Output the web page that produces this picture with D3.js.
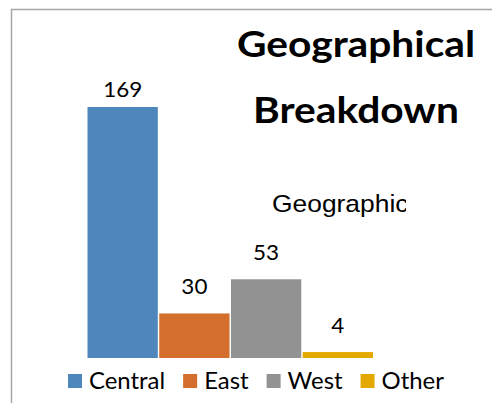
<!DOCTYPE html>
<html>
<head>
<meta charset="utf-8">
<script src="https://cdn.jsdelivr.net/npm/d3@7"></script>
<style>
  html, body { margin: 0; padding: 0; background: #fff; }
  svg { display: block; }
</style>
</head>
<body>
<div id="chart"></div>
<script>
const categories = ['Central', 'East', 'West', 'Other'];
const values = [169, 30, 53, 4];
const colors = ['#4F87BC', '#D36E2C', '#929292', '#E4A900'];
const titleLines = ['Geographical', 'Breakdown'];
const subTitle = 'Geographic';

const width = 492;
const height = 403;

const svg = d3.select('#chart').append('svg')
  .attr('width', width)
  .attr('height', height);

// outer frame (only top and left edges fall inside the picture)
svg.append('rect')
  .attr('x', 11.5).attr('y', 9.5)
  .attr('width', 600).attr('height', 600)
  .attr('fill', 'none')
  .attr('stroke', '#a6a6a6')
  .attr('stroke-width', 1.5);

const x = d3.scaleBand()
  .domain(categories)
  .range([87.5, 373])
  .paddingInner(0.02);

const y = d3.scaleLinear()
  .domain([0, 169])
  .range([358, 107]);

// the reference text is a bit wide, so stretch it horizontally
function place(sel, px, py, sx) {
  return sel.attr('transform', `translate(${px},${py}) scale(${sx},1)`);
}

// second title, cut off on the right
svg.append('clipPath').attr('id', 'subclip')
  .append('rect').attr('x', 0).attr('y', 0).attr('width', 406).attr('height', height);

svg.append('g')
  .attr('clip-path', 'url(#subclip)')
  .append('text')
  .style('font-family', '"Liberation Sans", Arial, sans-serif')
  .style('font-size', '24px')
  .style('fill', '#000')
  .text(subTitle)
  .call(place, 272, 212, 1.1);

// bars
svg.append('g')
  .selectAll('rect')
  .data(values)
  .join('rect')
  .attr('x', (d, i) => x(categories[i]))
  .attr('y', d => y(d))
  .attr('width', x.bandwidth())
  .attr('height', d => y(0) - y(d))
  .attr('fill', (d, i) => colors[i]);

// value labels
svg.append('g')
  .selectAll('text')
  .data(values)
  .join('text')
  .attr('text-anchor', 'middle')
  .style('font-family', 'Lato, "Open Sans", sans-serif')
  .style('font-size', '22px')
  .style('fill', '#000')
  .text(d => d)
  .each(function (d, i) {
    const cx = x(categories[i]) + x.bandwidth() / 2;
    const ty = Math.max(y(d) - 19, y.range()[1] - 10);
    place(d3.select(this), cx, ty, 1.02);
  });

// chart title
svg.append('g')
  .selectAll('text')
  .data(titleLines)
  .join('text')
  .attr('text-anchor', 'middle')
  .style('font-family', 'Lato, "Open Sans", sans-serif')
  .style('font-weight', 'bold')
  .style('font-size', '37px')
  .style('fill', '#000')
  .text(d => d)
  .each(function (d, i) {
    place(d3.select(this), 356, 57 + i * 66, 1.1);
  });

// legend
const legend = svg.append('g');
let lx = 68;
categories.forEach((c, i) => {
  legend.append('rect')
    .attr('x', lx).attr('y', 374)
    .attr('width', 14).attr('height', 14)
    .attr('fill', colors[i]);
  const t = legend.append('text')
    .style('font-family', 'Lato, "Open Sans", sans-serif')
    .style('font-size', '23px')
    .style('fill', '#000')
    .text(c)
    .call(place, lx + 21, 389, 1.04);
  lx += 21 + t.node().getComputedTextLength() * 1.04 + 18;
});
</script>
</body>
</html>
